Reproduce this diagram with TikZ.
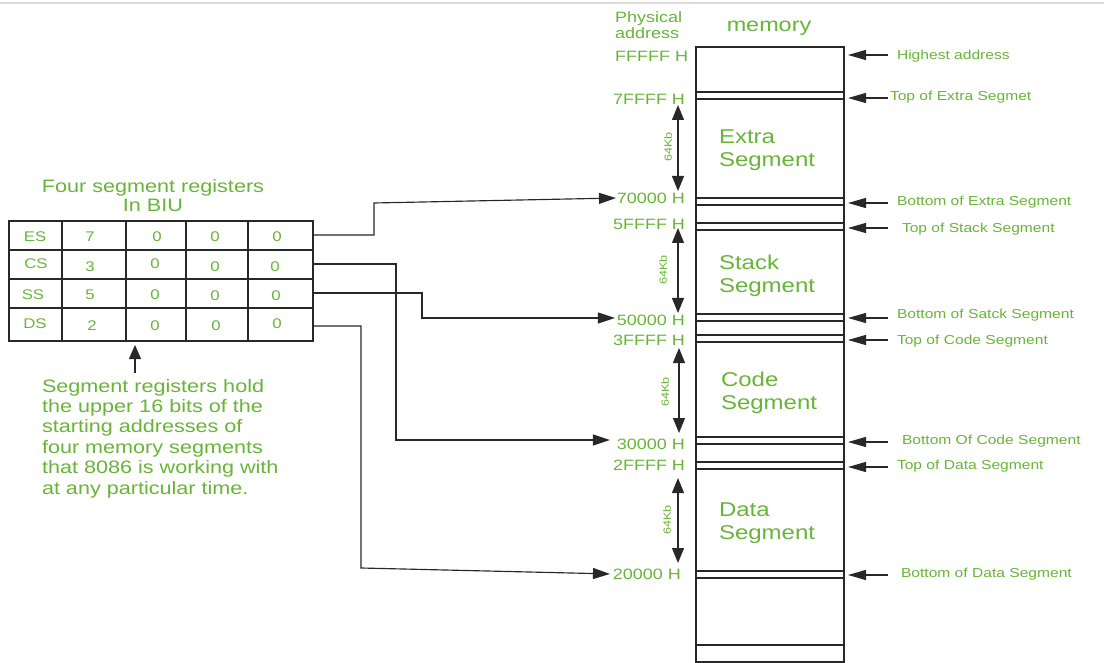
\documentclass[tikz,border=0pt]{standalone}
\usepackage{fontspec}
\setmainfont{Liberation Sans}[FakeStretch=1.2]
\usetikzlibrary{arrows.meta,calc}
\definecolor{txtgreen}{RGB}{104,180,56}
\definecolor{lncol}{RGB}{40,40,40}
\newcommand\fsz[2]{\fontsize{#1}{#2}\selectfont}

\begin{document}
\begin{tikzpicture}[x=1pt,y=-1pt,
  every node/.style={inner sep=0pt, outer sep=0pt, text=txtgreen},
  ln/.style={draw=lncol, line width=1.15pt},
  conn/.style={draw=lncol, line width=1.15pt, -{Triangle[length=17pt,width=11pt]}},
  lblarrow/.style={draw=lncol, line width=1.15pt, -{Triangle[length=18pt,width=10pt]}, shorten >=4pt},
  span/.style={draw=lncol, line width=1.15pt, {Triangle[length=15pt,width=12pt]}-{Triangle[length=15pt,width=12pt]}},
  addr/.style={anchor=east, font=\fsz{15}{17}},
  rlab/.style={anchor=west, font=\fsz{13}{15}},
  seg/.style={anchor=west, align=left, font=\fsz{20}{22.5}},
  cell/.style={font=\fsz{14}{16}},
  kb/.style={rotate=90, font=\fsz{10.5}{12}}]

\useasboundingbox (0,0) rectangle (1104,663);
\draw[black!14, line width=2pt] (0,3) -- (1104,3);

% ---------- segment register table ----------
\node[align=center, font=\fsz{18}{19}] (title) at (153,196) {Four segment registers\\In BIU};
\node[ln, minimum width=304pt, minimum height=120pt, anchor=north west] (tab) at (9,221) {};
\foreach \y in {250,279,308} \draw[ln] (9,\y) -- (313,\y);
\foreach \x in {62,126,186,248} \draw[ln] (\x,221) -- (\x,341);

\foreach \n/\x/\y/\t in {
  es/35/237/ES, e1/90/237/7, e2/157/237/0, e3/215/237/0, e4/277/237/0,
  cs/36/264/CS, c1/90/267/3, c2/155/264/0, c3/215/267/0, c4/275/267/0,
  ss/33/295/SS, s1/90/295/5, s2/155/295/0, s3/215/296/0, s4/276/296/0,
  ds/35/324/DS, d1/92/326/2, d2/155/326/0, d3/216/326/0, d4/277/324/0}
  \node[cell] (\n) at (\x,\y) {\t};

% note below the table
\node[anchor=north west, align=left, font=\fsz{18}{20.4}] (note) at (42,379)
  {Segment registers hold\\the upper 16 bits of the\\starting addresses of\\four memory segments\\that 8086 is working with\\at any particular time.};
\coordinate (noteTip) at (135,373);
\draw[draw=lncol, line width=1.15pt, -{Triangle[length=14pt,width=12pt]}, shorten >=4pt] (noteTip) -- (noteTip |- tab.south);

% ---------- memory column ----------
\node[align=left, anchor=west, font=\fsz{15}{16}] (phys) at (615,25) {Physical\\address};
\node[font=\fsz{19.5}{20}] (memt) at (769,28) {memory};
\node[ln, minimum width=148pt, minimum height=615pt, anchor=north west] (mem) at (696,47) {};
\foreach \y in {92,99,198,205,223,230,314,321,335,342,437,444,462,469,571,578,645}
  \draw[ln] (696,\y) -- (844,\y);

% physical addresses
\node[addr] (aFFFFF) at (688,56) {FFFFF H};
\node[addr] (a7FFFF) at (685,99) {7FFFF H};
\node[addr] (a70000) at (685,198) {70000 H};
\node[addr] (a5FFFF) at (685,224) {5FFFF H};
\node[addr] (a50000) at (685,320) {50000 H};
\node[addr] (a3FFFF) at (685,340) {3FFFF H};
\node[addr] (a30000) at (685,444) {30000 H};
\node[addr] (a2FFFF) at (685,465) {2FFFF H};
\node[addr] (a20000) at (681,574) {20000 H};

% segment names
\node[seg] (gE) at (719,150) {Extra\\Segment};
\node[seg] (gS) at (719,276) {Stack\\Segment};
\node[seg] (gC) at (721,393) {Code\\Segment};
\node[seg] (gD) at (719,523) {Data\\Segment};

% 64Kb spans
\draw[span] (678,105) -- (678,191);
\node[kb] at (668,147) {64Kb};
\draw[span] (678,228) -- (678,313);
\node[kb] at (663,270) {64Kb};
\draw[span] (679,348) -- (679,433);
\node[kb] at (665,392) {64Kb};
\draw[span] (678,478) -- (678,563);
\node[kb] at (667,520) {64Kb};

% labels on the right
\foreach \i/\tx/\ly/\ay/\t in {
  1/897/56/55/Highest address,
  2/890/97/98/Top of Extra Segmet,
  3/897/202/203/Bottom of Extra Segment,
  4/902/229/228/Top of Stack Segment,
  5/897/315/318/Bottom of Satck Segment,
  6/897/341/340/Top of Code Segment,
  7/902/441/442/Bottom Of Code Segment,
  8/897/466/467/Top of Data Segment,
  9/901/574/575/Bottom of Data Segment}
{
  \node[rlab] (r\i) at (\tx,\ly) {\t};
  \coordinate (q\i) at (888,\ay);
  \draw[lblarrow] (q\i) -- (q\i -| mem.east);
}

% ---------- register to segment base connectors ----------
\draw[conn, shorten >=1pt] ($(tab.north east)+(0,14)$) -- (374,235) -- (374,203) -- (a70000.west);
\draw[conn, shorten >=7pt] ($(tab.north east)+(0,43)$) -- (396,264) -- (396,440) -- (396,440 -| a30000.west);
\draw[conn, shorten >=2pt] ($(tab.north east)+(0,72)$) -- (422,293) -- (422,318) -- (422,318 -| a50000.west);
\draw[conn, shorten >=3pt] ($(tab.north east)+(0,105)$) -- (361,326) -- (361,568) -- (a20000.west);

\end{tikzpicture}
\end{document}
